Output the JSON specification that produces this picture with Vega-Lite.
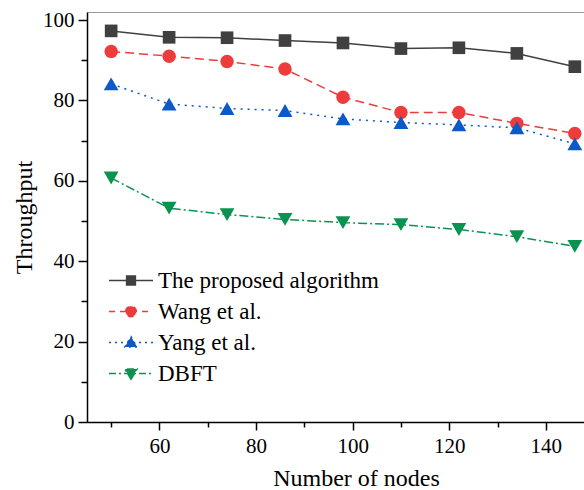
{
  "$schema": "https://vega.github.io/schema/vega-lite/v6.json",
  "autosize": "none",
  "width": 497,
  "height": 410,
  "padding": {"left": 87, "top": 12, "right": 0, "bottom": 68},
  "background": "white",
  "config": {
    "view": {"stroke": "#9a9a9a", "strokeWidth": 1},
    "font": "Liberation Serif",
    "axis": {
      "labelFont": "Liberation Serif",
      "labelFontSize": 21,
      "labelColor": "black",
      "titleFont": "Liberation Serif",
      "titleFontSize": 24,
      "titleFontWeight": "normal",
      "titleColor": "black",
      "domainColor": "black",
      "domainWidth": 1.5,
      "tickColor": "black",
      "tickWidth": 1.5,
      "grid": false
    },
    "legend": {
      "orient": "none",
      "legendX": 21,
      "legendY": 253,
      "title": null,
      "padding": 0,
      "labelFont": "Liberation Serif",
      "labelFontSize": 23,
      "labelColor": "black",
      "labelLimit": 400,
      "symbolSize": 1936,
      "symbolStrokeWidth": 1.5,
      "symbolOpacity": 1,
      "clipHeight": 31,
      "rowPadding": 0,
      "labelOffset": 4
    }
  },
  "data": {
    "values": [
      {"series": "The proposed algorithm", "nodes": 50, "throughput": 97.3},
      {"series": "The proposed algorithm", "nodes": 62, "throughput": 95.7},
      {"series": "The proposed algorithm", "nodes": 74, "throughput": 95.6},
      {"series": "The proposed algorithm", "nodes": 86, "throughput": 94.9},
      {"series": "The proposed algorithm", "nodes": 98, "throughput": 94.3},
      {"series": "The proposed algorithm", "nodes": 110, "throughput": 92.9},
      {"series": "The proposed algorithm", "nodes": 122, "throughput": 93.1},
      {"series": "The proposed algorithm", "nodes": 134, "throughput": 91.7},
      {"series": "The proposed algorithm", "nodes": 146, "throughput": 88.4},
      {"series": "Wang et al.", "nodes": 50, "throughput": 92.2},
      {"series": "Wang et al.", "nodes": 62, "throughput": 91.0},
      {"series": "Wang et al.", "nodes": 74, "throughput": 89.7},
      {"series": "Wang et al.", "nodes": 86, "throughput": 87.8},
      {"series": "Wang et al.", "nodes": 98, "throughput": 80.8},
      {"series": "Wang et al.", "nodes": 110, "throughput": 77.0},
      {"series": "Wang et al.", "nodes": 122, "throughput": 77.0},
      {"series": "Wang et al.", "nodes": 134, "throughput": 74.3},
      {"series": "Wang et al.", "nodes": 146, "throughput": 71.8},
      {"series": "Yang et al.", "nodes": 50, "throughput": 84.1},
      {"series": "Yang et al.", "nodes": 62, "throughput": 79.1},
      {"series": "Yang et al.", "nodes": 74, "throughput": 78.0},
      {"series": "Yang et al.", "nodes": 86, "throughput": 77.5},
      {"series": "Yang et al.", "nodes": 98, "throughput": 75.4},
      {"series": "Yang et al.", "nodes": 110, "throughput": 74.5},
      {"series": "Yang et al.", "nodes": 122, "throughput": 73.9},
      {"series": "Yang et al.", "nodes": 134, "throughput": 73.2},
      {"series": "Yang et al.", "nodes": 146, "throughput": 69.2},
      {"series": "DBFT", "nodes": 50, "throughput": 60.7},
      {"series": "DBFT", "nodes": 62, "throughput": 53.2},
      {"series": "DBFT", "nodes": 74, "throughput": 51.6},
      {"series": "DBFT", "nodes": 86, "throughput": 50.4},
      {"series": "DBFT", "nodes": 98, "throughput": 49.6},
      {"series": "DBFT", "nodes": 110, "throughput": 49.1},
      {"series": "DBFT", "nodes": 122, "throughput": 47.9},
      {"series": "DBFT", "nodes": 134, "throughput": 46.1},
      {"series": "DBFT", "nodes": 146, "throughput": 43.7}
    ]
  },
  "encoding": {
    "x": {
      "field": "nodes",
      "type": "quantitative",
      "scale": {"domain": [45, 147.9], "nice": false, "zero": false},
      "axis": {
        "title": "Number of nodes",
        "values": [50, 60, 70, 80, 90, 100, 110, 120, 130, 140],
        "labelExpr": "datum.value % 20 === 0 ? datum.label : ''",
        "tickSize": {"condition": {"test": "datum.value % 20 === 0", "value": 8}, "value": 5},
        "labelPadding": 5,
        "titlePadding": 10,
        "titleX": 269
      }
    },
    "y": {
      "field": "throughput",
      "type": "quantitative",
      "scale": {"domain": [0, 102], "nice": false},
      "axis": {
        "title": "Throughput",
        "values": [0, 10, 20, 30, 40, 50, 60, 70, 80, 90, 100],
        "labelExpr": "datum.value % 20 === 0 ? datum.label : ''",
        "tickSize": {"condition": {"test": "datum.value % 20 === 0", "value": 9}, "value": 6},
        "labelPadding": 4,
        "titlePadding": 6
      }
    }
  },
  "layer": [
    {
      "transform": [{"filter": "datum.series === 'The proposed algorithm'"}],
      "mark": {"type": "line", "strokeWidth": 1.5, "color": "#404040",
        "point": {"filled": true, "shape": "square", "size": 160, "color": "#404040", "opacity": 1}}
    },
    {
      "transform": [{"filter": "datum.series === 'Wang et al.'"}],
      "mark": {"type": "line", "strokeWidth": 1.5, "color": "#EE3B3B", "strokeDash": [9, 5],
        "point": {"filled": true, "shape": "circle", "size": 180, "color": "#EE3B3B", "opacity": 1}}
    },
    {
      "transform": [{"filter": "datum.series === 'Yang et al.'"}],
      "mark": {"type": "line", "strokeWidth": 1.5, "color": "#0B5AC8", "strokeDash": [2, 5],
        "point": {"filled": true, "shape": "triangle-up", "size": 220, "color": "#0B5AC8", "opacity": 1}}
    },
    {
      "transform": [{"filter": "datum.series === 'DBFT'"}],
      "mark": {"type": "line", "strokeWidth": 1.5, "color": "#0A9350", "strokeDash": [9, 3, 2, 3],
        "point": {"filled": true, "shape": "triangle-down", "size": 220, "color": "#0A9350", "opacity": 1}}
    },
    {
      "mark": {"type": "point", "opacity": 0, "strokeWidth": 1.5, "size": 1936},
      "encoding": {
        "fill": {
          "field": "series",
          "type": "nominal",
          "scale": {
            "domain": ["The proposed algorithm", "Wang et al.", "Yang et al.", "DBFT"],
            "range": ["#404040", "#EE3B3B", "#0B5AC8", "#0A9350"]
          }
        },
        "stroke": {
          "field": "series",
          "type": "nominal",
          "scale": {
            "domain": ["The proposed algorithm", "Wang et al.", "Yang et al.", "DBFT"],
            "range": ["#404040", "#EE3B3B", "#0B5AC8", "#0A9350"]
          }
        },
        "shape": {
          "field": "series",
          "type": "nominal",
          "scale": {
            "domain": ["The proposed algorithm", "Wang et al.", "Yang et al.", "DBFT"],
            "range": [
              "M-1,0H1M-0.2,-0.2H0.2V0.2H-0.2Z",
              "M-1,0H1M-0.24,0C-0.24,-0.13,-0.13,-0.24,0,-0.24C0.13,-0.24,0.24,-0.13,0.24,0C0.24,0.13,0.13,0.24,0,0.24C-0.13,0.24,-0.24,0.13,-0.24,0Z",
              "M-1,0H1M0,-0.26L0.28,0.2H-0.28Z",
              "M-1,0H1M0,0.26L0.28,-0.2H-0.28Z"
            ]
          }
        },
        "strokeDash": {
          "field": "series",
          "type": "nominal",
          "scale": {
            "domain": ["The proposed algorithm", "Wang et al.", "Yang et al.", "DBFT"],
            "range": [[1, 0], [6, 5], [2, 4], [7, 3, 2, 3]]
          }
        }
      }
    }
  ]
}
